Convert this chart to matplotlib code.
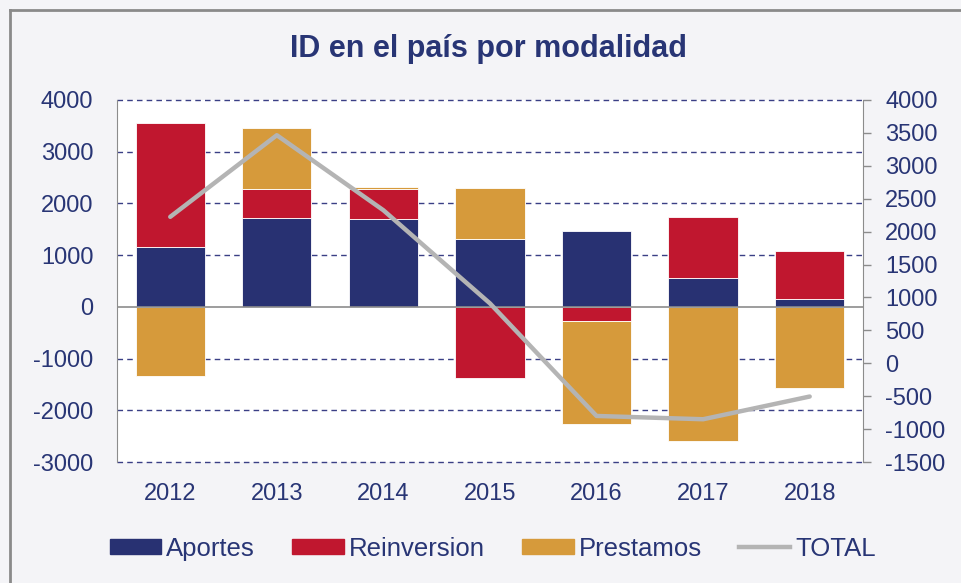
import numpy as np
import matplotlib.pyplot as plt
from matplotlib.lines import Line2D
from matplotlib.patches import Patch

plt.rcParams['font.family'] = ['Liberation Sans', 'DejaVu Sans']
plt.rcParams['axes.unicode_minus'] = False

years = ['2012', '2013', '2014', '2015', '2016', '2017', '2018']
aportes = [1150, 1720, 1700, 1320, 1470, 555, 155]
reinversion = [2400, 550, 570, -1380, -265, 1190, 920]
prestamos = [-1330, 1190, 45, 970, -2005, -2590, -1575]
total = [2225, 3465, 2325, 910, -800, -850, -505]

navy = '#283172'
red = '#c0172f'
gold = '#d69a3b'
gray_line = '#b4b4b4'
txt = '#283575'
bg = '#f4f4f7'
fs = 17

fig = plt.figure(figsize=(9.61, 5.83), dpi=100, facecolor=bg)
ax = fig.add_axes([0.1217, 0.2075, 0.7763, 0.621])
ax.set_facecolor('white')

x = np.arange(len(years))
w = 0.65

# positives stack up from zero, negatives stack down
pos_base = np.zeros(len(years))
neg_base = np.zeros(len(years))
for vals, col in [(aportes, navy), (reinversion, red), (prestamos, gold)]:
    v = np.array(vals, dtype=float)
    bottoms = np.where(v >= 0, pos_base, neg_base)
    ax.bar(x, v, w, bottom=bottoms, color=col, edgecolor='white', linewidth=0.6, zorder=3)
    pos_base += np.where(v >= 0, v, 0)
    neg_base += np.where(v < 0, v, 0)

ax.set_xlim(-0.5, len(years) - 0.5)
ax.set_ylim(-3000, 4000)
ax.set_yticks(range(-3000, 4001, 1000))
for t in range(-3000, 4001, 1000):
    if t == 0:
        ax.axhline(0, color='#8c8c8c', lw=1.2, zorder=4)
    else:
        ax.axhline(t, color='#3a3f85', lw=1.0, ls=(0, (4, 3)), zorder=1, clip_on=False)

ax.set_xticks(x)
ax.set_xticklabels(years)
ax.tick_params(axis='x', length=0, pad=15, labelsize=fs, labelcolor=txt)
ax.tick_params(axis='y', length=0, pad=17, labelsize=fs, labelcolor=txt)
for s in ['top', 'bottom', 'right']:
    ax.spines[s].set_visible(False)
ax.spines['left'].set_color('#8c8c8c')

ax2 = ax.twinx()
ax2.plot(x, total, color=gray_line, lw=3.2, solid_capstyle='round', zorder=5)
ax2.set_ylim(-1500, 4000)
ax2.set_yticks(range(-1500, 4001, 500))
ax2.tick_params(axis='y', length=6, width=1, color='#8c8c8c', pad=10,
                labelsize=fs, labelcolor=txt)
for s in ['top', 'bottom', 'left']:
    ax2.spines[s].set_visible(False)
ax2.spines['right'].set_color('#8c8c8c')

fig.text(0.508, 0.916, 'ID en el país por modalidad', ha='center', va='center',
         fontsize=22, fontweight='bold', color=txt)

handles = [Patch(color=navy), Patch(color=red), Patch(color=gold),
           Line2D([], [], color=gray_line, lw=3.2)]
fig.legend(handles, ['Aportes', 'Reinversion', 'Prestamos', 'TOTAL'],
           loc='center', bbox_to_anchor=(0.513, 0.059), ncol=4, frameon=False,
           fontsize=18.5, labelcolor=txt, handlelength=2.0, handleheight=0.5,
           handletextpad=0.2, columnspacing=1.45)

# outer frame, only left and top edges fall inside the image
fig.add_artist(Line2D([9.5 / 961, 9.5 / 961], [0, 1 - 9.5 / 583], color='#8a8a8a', lw=2))
fig.add_artist(Line2D([9.5 / 961, 1], [1 - 9.5 / 583, 1 - 9.5 / 583], color='#8a8a8a', lw=2))

fig.savefig('out.png', dpi=100, facecolor=bg)
